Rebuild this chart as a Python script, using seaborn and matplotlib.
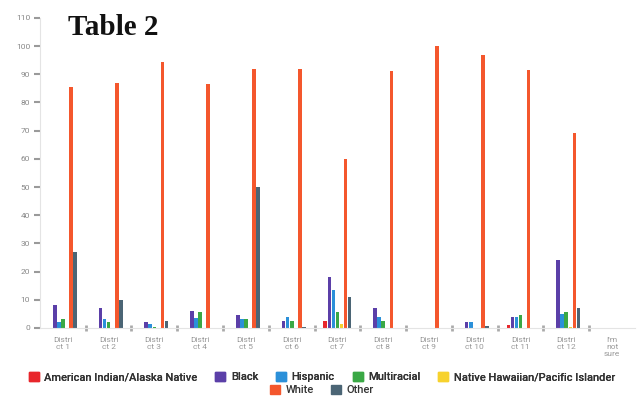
import matplotlib.pyplot as plt
import pandas as pd
import seaborn as sns
from matplotlib.patches import Patch

districts = [
    "Distri\nct 1", "Distri\nct 2", "Distri\nct 3", "Distri\nct 4", "Distri\nct 5",
    "Distri\nct 6", "Distri\nct 7", "Distri\nct 8", "Distri\nct 9", "Distri\nct 10",
    "Distri\nct 11", "Distri\nct 12", "I'm\nnot\nsure",
]
groups = [
    "American Indian/Alaska Native", "Black", "Hispanic", "Multiracial",
    "Native Hawaiian/Pacific Islander", "White", "Other",
]
american_indian = [0, 0, 0, 0, 0, 0, 2.5, 0, 0, 0, 1, 0, 0]
black = [8, 7, 2, 6, 4.5, 2.5, 18, 7, 0, 2, 4, 24, 0]
hispanic = [2, 3, 1.5, 3.5, 3, 4, 13.5, 4, 0, 2, 4, 5, 0]
multiracial = [3, 2, 0.5, 5.5, 3, 2.5, 5.5, 2.5, 0, 0, 4.5, 5.5, 0]
native_hawaiian = [0, 0, 0, 0, 0, 0, 1.5, 0, 0, 0, 0, 0.5, 0]
white = [85.5, 87, 94.5, 86.5, 92, 92, 60, 91, 100, 97, 91.5, 69, 0]
other = [27, 10, 2.5, 0, 50, 0.5, 11, 0, 0, 0.7, 0, 7, 0]
colors = ["#e8262b", "#5b3fa8", "#2b90d9", "#3aa845", "#f7d22d", "#f4572d", "#4b6575"]

series = [american_indian, black, hispanic, multiracial, native_hawaiian, white, other]
df = pd.DataFrame(
    [(d, g, v) for g, vals in zip(groups, series) for d, v in zip(districts, vals)],
    columns=["district", "group", "pct"],
)

sns.set_style("white")
plt.rcParams["font.family"] = ["Roboto", "DejaVu Sans"]

fig = plt.figure(figsize=(6.44, 3.98), dpi=100)
ax = fig.add_axes([0.062, 0.176, 0.924, 0.779])
sns.barplot(
    data=df, x="district", y="pct", hue="group", hue_order=groups,
    order=districts, palette=colors, width=0.62, gap=0.1, ax=ax,
    legend=False, saturation=1, linewidth=0,
)

ax.set_ylim(0, 110)
ax.set_yticks(range(0, 111, 10))
ax.set_xlim(-0.5, 12.5)
ax.set_xlabel("")
ax.set_ylabel("")
for s in ["top", "right"]:
    ax.spines[s].set_visible(False)
ax.spines["left"].set_color("#e4e4e4")
ax.spines["bottom"].set_color("#e4e4e4")
ax.tick_params(axis="y", left=True, length=4, width=1.5, color="#9a9a9a", labelsize=6,
               labelcolor="#888888", pad=3)
ax.tick_params(axis="x", which="major", bottom=False, labelsize=6, labelcolor="#999999", pad=3)
ax.set_xticks([i + 0.5 for i in range(12)], minor=True)
ax.tick_params(axis="x", which="minor", bottom=True, length=4, width=2,
               color="#aaaaaa", direction="inout")

fig.text(0.105, 0.932, "Table 2", family="Liberation Serif", fontweight="bold",
         fontsize=21, color="#111111", va="center")

handles = [Patch(color=c, label=g) for c, g in zip(colors, groups)]
leg_kw = dict(loc="center", frameon=False, handlelength=0.9, handleheight=0.9,
              columnspacing=1.6, handletextpad=0.5, labelcolor="#333333",
              borderpad=0, prop={"family": "Roboto", "size": 8, "weight": "medium"})
leg1 = fig.legend(handles=handles[:5], bbox_to_anchor=(0.5, 0.053), ncol=5, **leg_kw)
fig.add_artist(leg1)
fig.legend(handles=handles[5:], bbox_to_anchor=(0.5, 0.02), ncol=2, **leg_kw)

fig.savefig("out.png", dpi=100)
